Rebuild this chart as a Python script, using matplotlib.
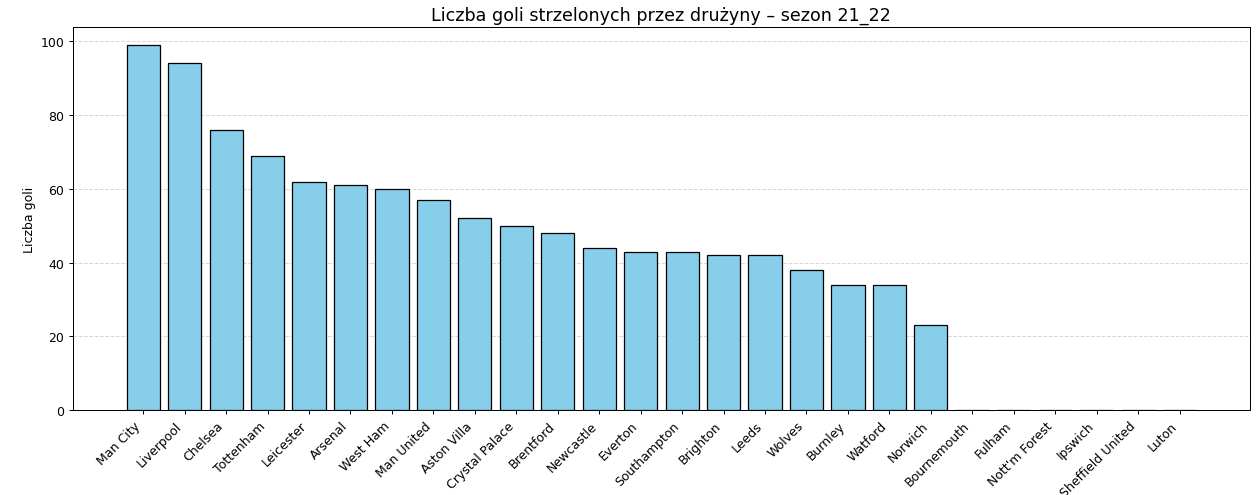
import matplotlib.pyplot as plt

teams = ["Man City", "Liverpool", "Chelsea", "Tottenham", "Leicester", "Arsenal",
         "West Ham", "Man United", "Aston Villa", "Crystal Palace", "Brentford",
         "Newcastle", "Everton", "Southampton", "Brighton", "Leeds", "Wolves",
         "Burnley", "Watford", "Norwich", "Bournemouth", "Fulham", "Nott'm Forest",
         "Ipswich", "Sheffield United", "Luton"]
goals = [99, 94, 76, 69, 62, 61, 60, 57, 52, 50, 48, 44, 43, 43, 42, 42, 38,
         34, 34, 23, 0, 0, 0, 0, 0, 0]

fig = plt.figure(figsize=(14.011, 5.511), dpi=90)

plt.bar(teams, goals, color="skyblue", edgecolor="black")
plt.grid(True, linestyle="--", axis="y", alpha=0.5)
ax = plt.gca()
ax.set_axisbelow(True)
plt.xticks(rotation=45, ha="right")
plt.ylabel("Liczba goli")
plt.title("Liczba goli strzelonych przez drużyny – sezon 21_22", fontsize=14)

plt.subplots_adjust(left=0.058, right=0.991, top=0.944, bottom=0.171)
plt.savefig("out.png", dpi=90)
